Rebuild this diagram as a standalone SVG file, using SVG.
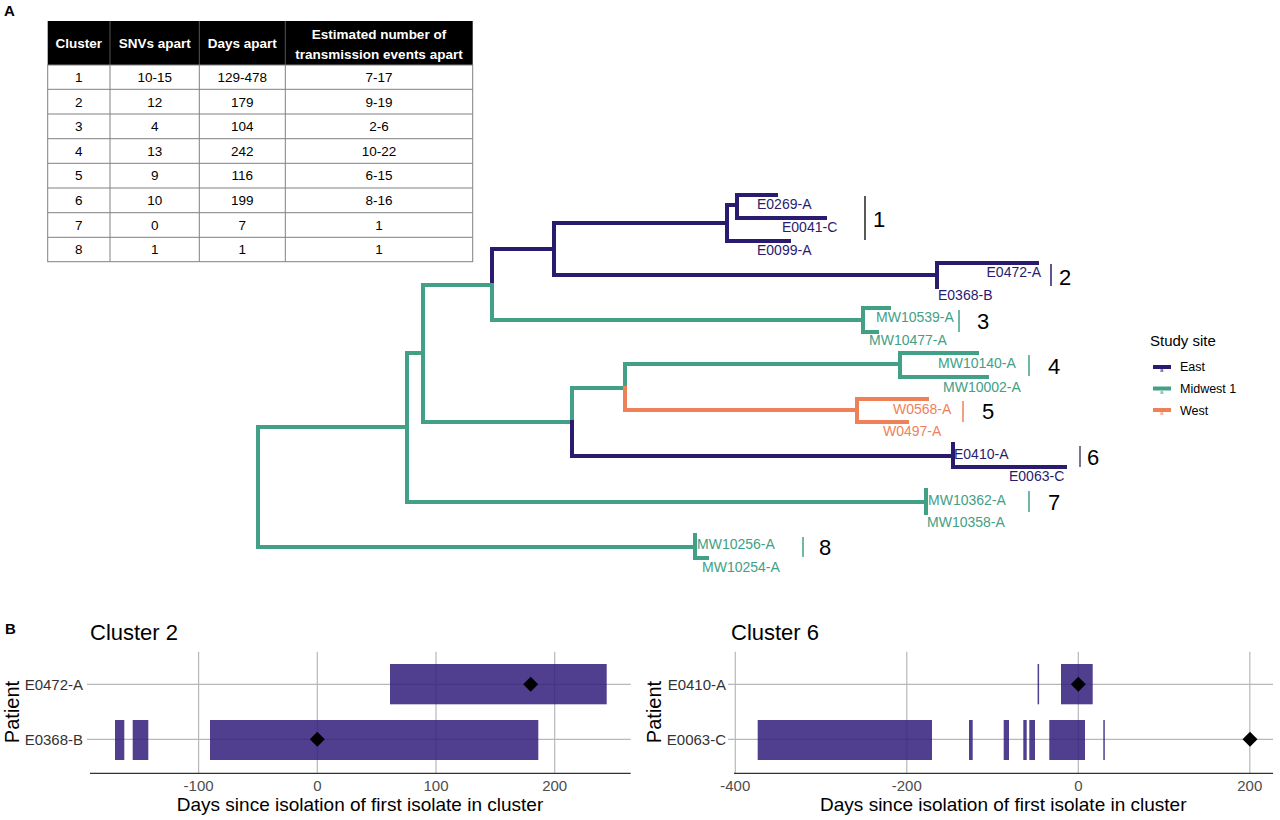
<svg xmlns="http://www.w3.org/2000/svg" width="1280" height="820" viewBox="0 0 1280 820">
<style>
text{font-family:"Liberation Sans",Arial,sans-serif}
.pl{font-weight:bold;font-size:15px;fill:#000}
.th{font-weight:bold;font-size:13.5px;fill:#fff;text-anchor:middle}
.td{font-size:13.5px;fill:#000;text-anchor:middle}
.tl{stroke:#808080;stroke-width:1;fill:none}
.br{fill:none;stroke-width:4;stroke-linecap:square}
.nv{stroke:#2a1b70}
.gr{stroke:#42a086}
.or{stroke:#ef8159}
.tip{font-size:14px}
.tnv{fill:#2a1b70}
.tgr{fill:#42a086}
.tor{fill:#ef8159}
.cb{stroke-width:1.5;fill:none}
.cn{font-size:22px;fill:#000}
.lg{font-size:12.5px;fill:#000}
.grid{stroke:#b8b8b8;stroke-width:1.2;fill:none}
.ax{stroke:#333;stroke-width:1.3;fill:none}
.bar{fill:#311d7b;fill-opacity:0.85}
.dm{fill:#000}
.yl{font-size:15px;fill:#333;text-anchor:end}
.tk{font-size:15px;fill:#4d4d4d;text-anchor:middle}
.at{font-size:19px;fill:#000;text-anchor:middle}
.ttl{font-size:22px;fill:#000}
</style>
<rect width="1280" height="820" fill="#fff"/>

<text class="pl" x="4" y="16">A</text>
<text class="pl" x="5" y="634">B</text>

<g id="table">
<rect x="47.7" y="21" width="425" height="44" fill="#000"/>
<g stroke="#555" stroke-width="1">
<line x1="110" y1="21" x2="110" y2="65"/><line x1="199.3" y1="21" x2="199.3" y2="65"/><line x1="285.3" y1="21" x2="285.3" y2="65"/>
</g>
<text class="th" x="78.8" y="48">Cluster</text>
<text class="th" x="154.7" y="48">SNVs apart</text>
<text class="th" x="242.3" y="48">Days apart</text>
<text class="th" x="379" y="39">Estimated number of</text>
<text class="th" x="379" y="58.5">transmission events apart</text>
<rect class="tl" x="47.7" y="65" width="425" height="196.7"/>
<g class="tl">
<line x1="110" y1="65" x2="110" y2="261.7"/><line x1="199.3" y1="65" x2="199.3" y2="261.7"/><line x1="285.3" y1="65" x2="285.3" y2="261.7"/>
<line x1="47.7" y1="89.3" x2="472.7" y2="89.3"/><line x1="47.7" y1="114" x2="472.7" y2="114"/><line x1="47.7" y1="138.7" x2="472.7" y2="138.7"/>
<line x1="47.7" y1="163.3" x2="472.7" y2="163.3"/><line x1="47.7" y1="188" x2="472.7" y2="188"/><line x1="47.7" y1="212.7" x2="472.7" y2="212.7"/>
<line x1="47.7" y1="237.3" x2="472.7" y2="237.3"/>
</g>
<g>
<text class="td" x="78.8" y="82">1</text><text class="td" x="154.7" y="82">10-15</text><text class="td" x="242.3" y="82">129-478</text><text class="td" x="379" y="82">7-17</text>
<text class="td" x="78.8" y="106.5">2</text><text class="td" x="154.7" y="106.5">12</text><text class="td" x="242.3" y="106.5">179</text><text class="td" x="379" y="106.5">9-19</text>
<text class="td" x="78.8" y="131">3</text><text class="td" x="154.7" y="131">4</text><text class="td" x="242.3" y="131">104</text><text class="td" x="379" y="131">2-6</text>
<text class="td" x="78.8" y="155.7">4</text><text class="td" x="154.7" y="155.7">13</text><text class="td" x="242.3" y="155.7">242</text><text class="td" x="379" y="155.7">10-22</text>
<text class="td" x="78.8" y="180.3">5</text><text class="td" x="154.7" y="180.3">9</text><text class="td" x="242.3" y="180.3">116</text><text class="td" x="379" y="180.3">6-15</text>
<text class="td" x="78.8" y="205">6</text><text class="td" x="154.7" y="205">10</text><text class="td" x="242.3" y="205">199</text><text class="td" x="379" y="205">8-16</text>
<text class="td" x="78.8" y="229.7">7</text><text class="td" x="154.7" y="229.7">0</text><text class="td" x="242.3" y="229.7">7</text><text class="td" x="379" y="229.7">1</text>
<text class="td" x="78.8" y="254.3">8</text><text class="td" x="154.7" y="254.3">1</text><text class="td" x="242.3" y="254.3">1</text><text class="td" x="379" y="254.3">1</text>
</g>
</g>

<g id="connectors">
<!-- backbone -->
<path class="br gr" d="M407,427 H258 V547 H695"/>
<path class="br gr" d="M423,353 H407 V502 H926"/>
<path class="br gr" d="M492,285 H423 V422 H572"/>
<path class="br nv" d="M492,285 V249 H554"/>
<path class="br gr" d="M492,285 V320 H863"/>
<path class="br nv" d="M727,223 H554 V275 H937"/>
<path class="br gr" d="M572,422 V388 H625"/>
<path class="br nv" d="M572,422 V456 H953"/>
<path class="br gr" d="M625,388 V364 H900"/>
<path class="br or" d="M625,388 V410 H857"/>
<!-- cluster 1 -->
<path class="br nv" d="M737,205 H727 V241 H789"/>
<path class="br nv" d="M776,195 H737 V218 H825"/>
<!-- cluster 2 -->
<path class="br nv" d="M1037,263 H937 V287"/>
<!-- cluster 3 -->
<path class="br gr" d="M889,308 H863 V332 H877"/>
<!-- cluster 4 -->
<path class="br gr" d="M977,353 H900 V377 H987"/>
<!-- cluster 5 -->
<path class="br or" d="M927,399 H857 V422 H907"/>
<!-- cluster 6 -->
<path class="br nv" d="M953,444 V467 H1065"/>
<!-- cluster 7 -->
<path class="br gr" d="M926,490 V513"/>
<!-- cluster 8 -->
<path class="br gr" d="M695,535 V558 H707"/>
</g>

<g id="tips">
<text class="tip tnv" x="757" y="209">E0269-A</text>
<text class="tip tnv" x="782" y="232">E0041-C</text>
<text class="tip tnv" x="757" y="255">E0099-A</text>
<text class="tip tnv" x="1041" y="277" text-anchor="end">E0472-A</text>
<text class="tip tnv" x="938" y="300">E0368-B</text>
<text class="tip tgr" x="876" y="322">MW10539-A</text>
<text class="tip tgr" x="869" y="345">MW10477-A</text>
<text class="tip tgr" x="938" y="368">MW10140-A</text>
<text class="tip tgr" x="943" y="392">MW10002-A</text>
<text class="tip tor" x="893" y="414">W0568-A</text>
<text class="tip tor" x="883" y="436">W0497-A</text>
<text class="tip tnv" x="954" y="459">E0410-A</text>
<text class="tip tnv" x="1009" y="481">E0063-C</text>
<text class="tip tgr" x="928" y="505">MW10362-A</text>
<text class="tip tgr" x="927" y="527">MW10358-A</text>
<text class="tip tgr" x="697" y="549">MW10256-A</text>
<text class="tip tgr" x="702" y="572">MW10254-A</text>
</g>

<g id="cluster-labels">
<line class="cb" x1="865" y1="196" x2="865" y2="240" stroke="#222"/><text class="cn" x="873" y="227">1</text>
<line class="cb" x1="1051" y1="264" x2="1051" y2="286" stroke="#2a1b70"/><text class="cn" x="1059" y="285">2</text>
<line class="cb" x1="959" y1="310" x2="959" y2="332" stroke="#42a086"/><text class="cn" x="977" y="329">3</text>
<line class="cb" x1="1029" y1="355" x2="1029" y2="376" stroke="#42a086"/><text class="cn" x="1048" y="374">4</text>
<line class="cb" x1="963" y1="401" x2="963" y2="422" stroke="#ef8159"/><text class="cn" x="982" y="419">5</text>
<line class="cb" x1="1080" y1="446" x2="1080" y2="467" stroke="#4a4a6a"/><text class="cn" x="1087" y="465">6</text>
<line class="cb" x1="1029" y1="491" x2="1029" y2="512" stroke="#42a086"/><text class="cn" x="1048" y="510">7</text>
<line class="cb" x1="803" y1="537" x2="803" y2="557" stroke="#42a086"/><text class="cn" x="819" y="555">8</text>
</g>

<g id="legend">
<text x="1150" y="346" font-size="15" fill="#000">Study site</text>
<line x1="1153" y1="367" x2="1171" y2="367" stroke="#2a1b70" stroke-width="4"/>
<text x="1160" y="372" font-size="6" fill="#2a1b70">a</text>
<text class="lg" x="1180" y="371">East</text>
<line x1="1153" y1="388.5" x2="1171" y2="388.5" stroke="#42a086" stroke-width="4"/>
<text x="1160" y="393.5" font-size="6" fill="#42a086">a</text>
<text class="lg" x="1180" y="393">Midwest 1</text>
<line x1="1153" y1="410" x2="1171" y2="410" stroke="#ef8159" stroke-width="4"/>
<text x="1160" y="415" font-size="6" fill="#ef8159">a</text>
<text class="lg" x="1180" y="414.5">West</text>
</g>

<g id="chart-cluster2">
<text class="ttl" x="90" y="640">Cluster 2</text>
<g class="grid">
<line x1="198.6" y1="651.7" x2="198.6" y2="773"/><line x1="317.3" y1="651.7" x2="317.3" y2="773"/>
<line x1="436" y1="651.7" x2="436" y2="773"/><line x1="554.7" y1="651.7" x2="554.7" y2="773"/>
<line x1="87" y1="684.3" x2="630.7" y2="684.3"/><line x1="87" y1="739.3" x2="630.7" y2="739.3"/>
</g>
<rect class="bar" x="390" y="664" width="216.7" height="40.3"/>
<rect class="bar" x="115" y="720" width="9.3" height="40"/>
<rect class="bar" x="132.7" y="720" width="15.6" height="40"/>
<rect class="bar" x="210" y="720" width="328.3" height="40"/>
<path class="dm" d="M530.7,676.8 L538.2,684.3 L530.7,691.8 L523.2,684.3 Z"/>
<path class="dm" d="M317.3,731.8 L324.8,739.3 L317.3,746.8 L309.8,739.3 Z"/>
<line class="ax" x1="90" y1="773.3" x2="630.7" y2="773.3"/>
<text class="yl" x="83" y="689.5">E0472-A</text>
<text class="yl" x="83" y="744.5">E0368-B</text>
<text transform="translate(19,712) rotate(-90)" font-size="20" text-anchor="middle" fill="#000">Patient</text>
<text class="tk" x="198.6" y="790.7">-100</text>
<text class="tk" x="317.3" y="790.7">0</text>
<text class="tk" x="436" y="790.7">100</text>
<text class="tk" x="554.7" y="790.7">200</text>
<text class="at" x="360" y="810.5">Days since isolation of first isolate in cluster</text>
</g>

<g id="chart-cluster6">
<text class="ttl" x="731" y="640">Cluster 6</text>
<g class="grid">
<line x1="735.3" y1="651.7" x2="735.3" y2="773"/><line x1="906.8" y1="651.7" x2="906.8" y2="773"/>
<line x1="1078.3" y1="651.7" x2="1078.3" y2="773"/><line x1="1249.8" y1="651.7" x2="1249.8" y2="773"/>
<line x1="728" y1="684.3" x2="1273" y2="684.3"/><line x1="728" y1="739.3" x2="1273" y2="739.3"/>
</g>
<rect class="bar" x="1037.6" y="664" width="1.5" height="40.3"/>
<rect class="bar" x="1061" y="664" width="31.7" height="40.3"/>
<rect class="bar" x="757.7" y="720" width="174.3" height="40"/>
<rect class="bar" x="969" y="720" width="3.7" height="40"/>
<rect class="bar" x="1003.7" y="720" width="5.3" height="40"/>
<rect class="bar" x="1023.3" y="720" width="3.4" height="40"/>
<rect class="bar" x="1029.3" y="720" width="5.7" height="40"/>
<rect class="bar" x="1049.3" y="720" width="35.7" height="40"/>
<rect class="bar" x="1103.3" y="720" width="1.5" height="40"/>
<path class="dm" d="M1078.3,676.8 L1085.8,684.3 L1078.3,691.8 L1070.8,684.3 Z"/>
<path class="dm" d="M1250,731.8 L1257.5,739.3 L1250,746.8 L1242.5,739.3 Z"/>
<line class="ax" x1="734" y1="773.3" x2="1273" y2="773.3"/>
<text class="yl" x="726" y="689.5">E0410-A</text>
<text class="yl" x="726" y="744.5">E0063-C</text>
<text transform="translate(661,712) rotate(-90)" font-size="20" text-anchor="middle" fill="#000">Patient</text>
<text class="tk" x="735.3" y="790.7">-400</text>
<text class="tk" x="906.8" y="790.7">-200</text>
<text class="tk" x="1078.3" y="790.7">0</text>
<text class="tk" x="1249.8" y="790.7">200</text>
<text class="at" x="1003.3" y="810.5">Days since isolation of first isolate in cluster</text>
</g>
</svg>
